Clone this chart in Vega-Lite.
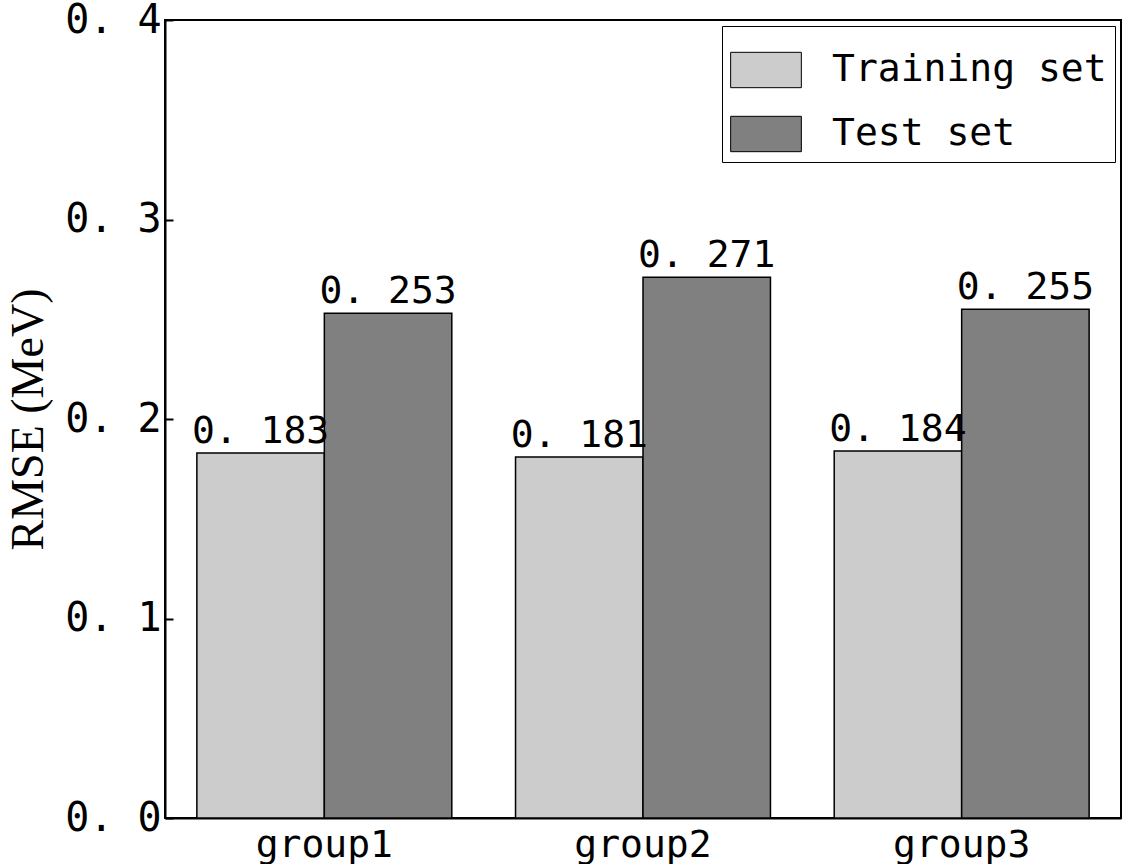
{
  "$schema": "https://vega.github.io/schema/vega-lite/v6.json",
  "autosize": {"type": "fit", "contains": "padding"},
  "width": 1137,
  "height": 864,
  "padding": {"left": 5, "top": 0, "right": 16, "bottom": 0},
  "background": "white",
  "data": {"values": [
    {"group": "group1", "set": "Training set", "rmse": 0.183, "label": "0. 183"},
    {"group": "group1", "set": "Test set", "rmse": 0.253, "label": "0. 253"},
    {"group": "group2", "set": "Training set", "rmse": 0.181, "label": "0. 181"},
    {"group": "group2", "set": "Test set", "rmse": 0.271, "label": "0. 271"},
    {"group": "group3", "set": "Training set", "rmse": 0.184, "label": "0. 184"},
    {"group": "group3", "set": "Test set", "rmse": 0.255, "label": "0. 255"}
  ]},
  "encoding": {
    "x": {"field": "group", "type": "nominal", "title": null,
      "scale": {"paddingInner": 0.2, "paddingOuter": 0.1},
      "axis": {"labelAngle": 0, "labelFont": "DejaVu Sans Mono", "labelFontSize": 38, "labelColor": "black", "tickSize": 0, "labelPadding": 8, "domainColor": "black", "domainWidth": 2}},
    "xOffset": {"field": "set", "type": "nominal", "sort": ["Training set", "Test set"]},
    "y": {"field": "rmse", "type": "quantitative", "title": "RMSE (MeV)",
      "scale": {"domain": [0, 0.4]},
      "axis": {"values": [0, 0.1, 0.2, 0.3, 0.4], "labelExpr": "replace(format(datum.value, '.1f'), '.', '. ')", "grid": false,
        "labelFont": "DejaVu Sans Mono", "labelFontSize": 40, "labelColor": "black", "tickSize": -8, "tickColor": "black", "tickWidth": 2, "labelPadding": 12,
        "titleFont": "Liberation Serif", "titleFontSize": 46, "titleFontWeight": "normal", "titleColor": "black", "titlePadding": 12,
        "domainColor": "black", "domainWidth": 2}}
  },
  "layer": [
    {
      "mark": {"type": "bar", "stroke": "black", "strokeWidth": 1.5},
      "encoding": {
        "color": {"field": "set", "type": "nominal", "sort": ["Training set", "Test set"],
          "scale": {"domain": ["Training set", "Test set"], "range": ["#cccccc", "#808080"]},
          "legend": {"title": null, "orient": "top-right", "symbolType": "M-1,-0.5H1V0.5H-1Z", "symbolSize": 5000, "symbolStrokeColor": "black", "symbolStrokeWidth": 1,
            "labelFont": "DejaVu Sans Mono", "labelFontSize": 38, "labelColor": "black", "labelLimit": 400, "labelOffset": 30, "rowPadding": 8, "padding": 8,
            "strokeColor": "black", "fillColor": "white", "offset": 6}}
      }
    },
    {
      "mark": {"type": "text", "baseline": "bottom", "dy": -2, "font": "DejaVu Sans Mono", "fontSize": 38, "color": "black"},
      "encoding": {"text": {"field": "label"}}
    }
  ],
  "config": {"view": {"stroke": "black", "strokeWidth": 2}}
}
